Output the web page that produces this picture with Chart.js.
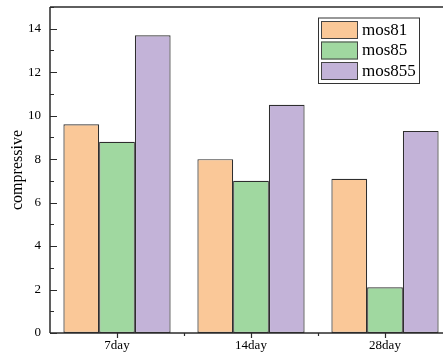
<!DOCTYPE html>
<html>
<head>
<meta charset="utf-8">
<script src="https://cdn.jsdelivr.net/npm/chart.js@4/dist/chart.umd.min.js"></script>
<style>
  html, body { margin: 0; padding: 0; background: #fff; overflow: hidden; }
  /* the plot frame runs past the right edge of the visible area */
  #wrap { width: 443px; height: 360px; overflow: hidden; position: relative; }
  #c { position: absolute; left: 0; top: 0; }
</style>
</head>
<body>
<div id="wrap"><canvas id="c" width="460" height="360"></canvas></div>
<script>
// Compressive strength by curing age
const categories = ['7day', '14day', '28day'];
const mos81 = [9.6, 8.0, 7.1];
const mos85 = [8.8, 7.0, 2.1];
const mos855 = [13.7, 10.5, 9.3];
const yTicks = [0, 2, 4, 6, 8, 10, 12, 14];

const SERIF = '"Liberation Serif", "Times New Roman", serif';
const AXIS_COLOR = '#2b2b2b';

// Axis lines and inward/outward tick marks drawn through the chart scales
const framePlugin = {
  id: 'frame',
  afterDatasetsDraw(chart) {
    const { ctx, chartArea: a, scales: { x, y } } = chart;
    ctx.save();
    ctx.strokeStyle = AXIS_COLOR;
    ctx.lineWidth = 1.5;
    ctx.beginPath();
    ctx.moveTo(a.left, a.top); ctx.lineTo(a.right, a.top);
    ctx.moveTo(a.left, a.top); ctx.lineTo(a.left, a.bottom);
    ctx.moveTo(a.left, a.bottom); ctx.lineTo(a.right, a.bottom);
    ctx.stroke();

    ctx.lineWidth = 1.2;
    ctx.beginPath();
    // y: major ticks on labelled values, minor in between (pointing inward)
    for (let v = y.min; v <= y.max; v += 1) {
      const py = Math.round(y.getPixelForValue(v)) + 0.5;
      const len = yTicks.includes(v) ? 7 : 4;
      ctx.moveTo(a.left, py); ctx.lineTo(a.left + len, py);
    }
    // x: major ticks at category centres, minor at boundaries (pointing outward)
    categories.forEach((c, i) => {
      const px = Math.round(x.getPixelForValue(i)) + 0.5;
      ctx.moveTo(px, a.bottom); ctx.lineTo(px, a.bottom + 5);
      if (i > 0) {
        const bx = Math.round((x.getPixelForValue(i - 1) + x.getPixelForValue(i)) / 2) + 0.5;
        ctx.moveTo(bx, a.bottom); ctx.lineTo(bx, a.bottom + 3);
      }
    });
    ctx.stroke();
    ctx.restore();
  }
};

// Boxed legend inside the plot area, top right
const boxLegendPlugin = {
  id: 'boxLegend',
  afterDraw(chart) {
    const { ctx, chartArea: a } = chart;
    const right = a.right - 33, top = a.top + 10.5;
    const width = 101, rowH = 20.5, swW = 37, swH = 18;
    const left = right - width;
    const sets = chart.data.datasets;
    ctx.save();
    ctx.fillStyle = '#fff';
    ctx.strokeStyle = '#333';
    ctx.lineWidth = 1;
    ctx.fillRect(left, top, width, sets.length * rowH + 4);
    ctx.strokeRect(left + 0.5, top + 0.5, width, sets.length * rowH + 4);
    ctx.font = '17px ' + SERIF;
    ctx.textBaseline = 'middle';
    ctx.textAlign = 'left';
    sets.forEach((ds, i) => {
      const sy = top + 3.5 + i * rowH;
      ctx.fillStyle = ds.backgroundColor;
      ctx.fillRect(left + 3, sy, swW, swH);
      ctx.strokeStyle = '#444';
      ctx.strokeRect(left + 3.5, sy + 0.5, swW - 1, swH - 1);
      ctx.fillStyle = '#000';
      ctx.fillText(ds.label, left + 44, sy + swH / 2 + 0.5);
    });
    ctx.restore();
  }
};

const barStyle = {
  borderColor: '#2e2e2e',
  borderWidth: 1.2,
  borderSkipped: false,
  categoryPercentage: 0.8,
  barPercentage: 1.0
};

new Chart(document.getElementById('c'), {
  type: 'bar',
  data: {
    labels: categories,
    datasets: [
      { label: 'mos81', data: mos81, backgroundColor: '#FAC898', ...barStyle },
      { label: 'mos85', data: mos85, backgroundColor: '#A0D8A0', ...barStyle },
      { label: 'mos855', data: mos855, backgroundColor: '#C3B3D8', ...barStyle }
    ]
  },
  options: {
    responsive: false,
    devicePixelRatio: 1,
    animation: false,
    layout: { padding: { top: 7, right: 8, left: 0, bottom: 0 } },
    plugins: {
      legend: { display: false },
      tooltip: { enabled: false }
    },
    scales: {
      x: {
        grid: { display: false, drawTicks: false, tickLength: 0 },
        border: { display: false },
        ticks: { color: '#000', font: { family: SERIF, size: 13 }, padding: 5, maxRotation: 0 },
        afterFit(s) {
          s.height = 27;
          s.paddingLeft = 0;
          s.paddingRight = 0;
        }
      },
      y: {
        min: 0,
        max: 15,
        grid: { display: false, drawTicks: false, tickLength: 0 },
        border: { display: false },
        ticks: {
          stepSize: 2,
          color: '#000',
          font: { family: SERIF, size: 13 },
          padding: 9,
          callback: (v) => (yTicks.includes(v) ? String(v) : '')
        },
        title: {
          display: true,
          text: 'compressive',
          color: '#000',
          font: { family: SERIF, size: 16 },
          padding: { top: 8, bottom: 0 }
        },
        afterFit(s) {
          s.width = 50;
          s.paddingTop = 0;
          s.paddingBottom = 0;
        }
      }
    }
  },
  plugins: [framePlugin, boxLegendPlugin]
});
</script>
</body>
</html>
